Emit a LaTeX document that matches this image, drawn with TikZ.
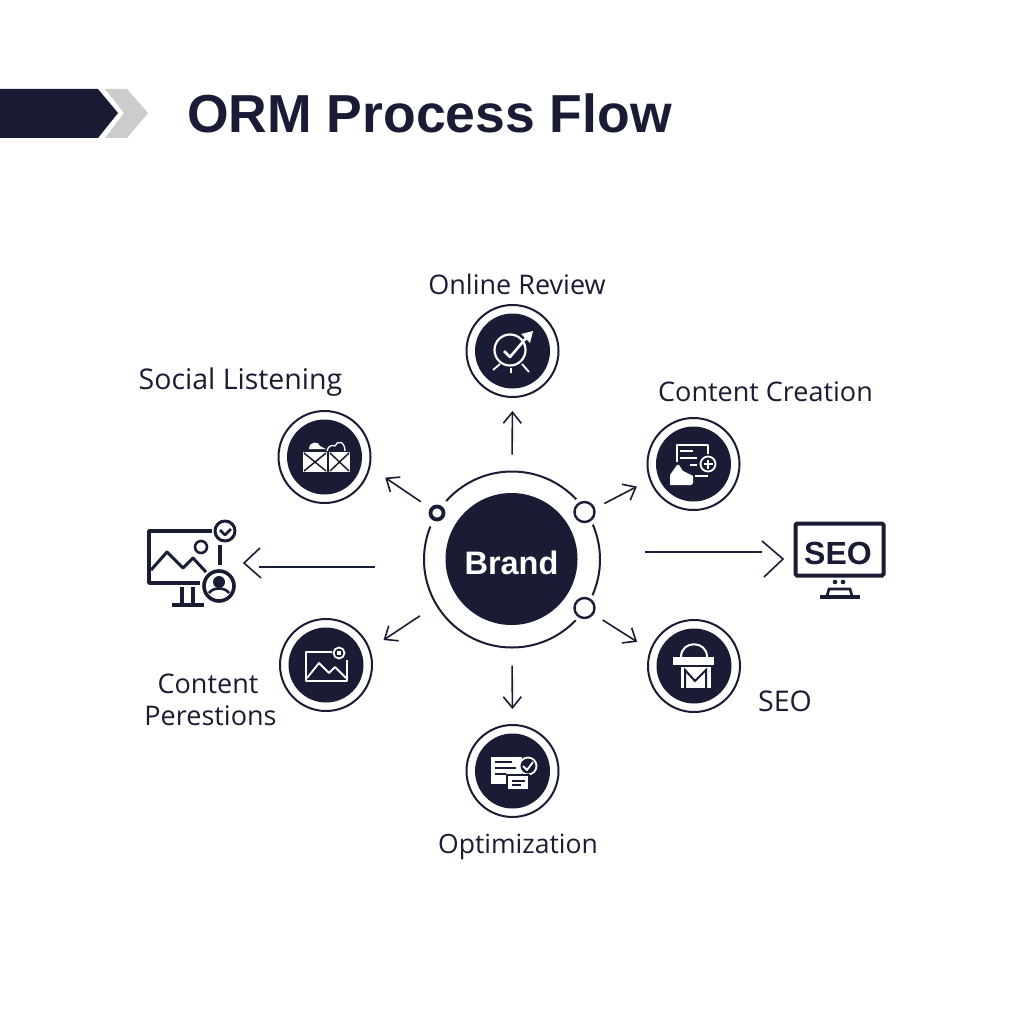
\documentclass[tikz,border=0pt]{standalone}
\usepackage{fontspec}
\setmainfont{Open Sans}
\newfontfamily\headfont{Liberation Sans}
\usetikzlibrary{arrows.meta}
\definecolor{navy}{HTML}{1A1C35}
\tikzset{
  ringnode/.style={circle,draw=navy,line width=2pt,fill=white,minimum size=92pt,inner sep=0pt},
  discnode/.style={circle,fill=navy,minimum size=75pt,inner sep=0pt},
  labelnode/.style={text=navy,font=\fontsize{27}{31}\selectfont,inner sep=0pt,align=center},
  flow/.style={draw=navy,line width=1.6pt,-{Straight Barb[length=11pt,width=18pt]}},
  longflow/.style={draw=navy,line width=1.6pt},
  icon/.style={draw=white,line width=1.8pt,line join=round},
  cut/.style={draw=navy,line width=1.5pt},
  pic/.style={draw=navy,line width=3.6pt,line join=round}
}
\begin{document}
\begin{tikzpicture}[x=1pt,y=-1pt]
\useasboundingbox (0,0) rectangle (1024,1024);
\fill[white] (0,0) rectangle (1024,1024);
% banner and title
\fill[navy] (0,89) -- (98,89) -- (118,113) -- (98,138) -- (0,138) -- cycle;
\fill[black!20] (105,89) -- (127,89) -- (148,113) -- (127,138) -- (105,138) -- (124,113) -- cycle;
\node[anchor=west,text=navy,inner sep=0pt,font=\headfont\bfseries\fontsize{53.5}{60}\selectfont] (title) at (187,113) {ORM Process Flow};
% centre
\node[circle,draw=navy,line width=2pt,minimum size=176pt,inner sep=0pt] (ring) at (512,559.5) {};
\node[circle,fill=navy,minimum size=132pt,inner sep=0pt] (brand) at (511.5,559) {};
\node[text=white,inner sep=0pt,font=\headfont\bfseries\fontsize{32.5}{36}\selectfont] (brandtxt) at (511.5,563) {Brand};
\foreach \name/\px/\py/\rad/\lw in {dotA/437/513/6.5/3.8,dotB/584.5/512/10/2.4,dotC/584.5/608/10/2.4}{
  \fill[white] (\px,\py) circle (15);
  \node[circle,draw=navy,fill=white,line width=\lw pt,minimum size=2*\rad pt,inner sep=0pt] (\name) at (\px,\py) {};
}
% satellites
\foreach \name/\px/\py in {review/512.5/351,social/324.5/457,creation/693.5/464,images/326/665,bag/694/666,optim/512.5/771}{
  \node[ringnode] (\name) at (\px,\py) {};
  \node[discnode] (\name-disc) at (\px,\py) {};
}
% labels
\node[labelnode] (reviewtxt) at (517,284) {Online Review};
\node[labelnode,font=\fontsize{28.5}{32}\selectfont] (socialtxt) at (240.5,382) {Social Listening};
\node[labelnode] (creationtxt) at (765.5,392) {Content Creation};
\node[labelnode] (imagestxt) at (208,700) {Content\\[1pt]\hspace*{5pt}Perestions};
\node[labelnode,font=\fontsize{28.5}{32}\selectfont] (bagtxt) at (785,701) {SEO};
\node[labelnode,font=\fontsize{26.5}{31}\selectfont] (optimtxt) at (518,847) {Optimization};
% connectors
\draw[flow,shorten <=16pt,shorten >=13pt] (ring.90) -- (review.south);
\draw[flow,shorten <=19pt,shorten >=18pt] (ring.148) -- (social.-13);
\draw[flow,shorten <=19pt,shorten >=14pt] (ring.32) -- (creation.200);
\draw[flow,shorten <=19pt,shorten >=16pt] (ring.211) -- (images.20);
\draw[flow,shorten <=20pt,shorten >=15pt] (ring.326) -- (bag.160);
\draw[flow,shorten <=17pt,shorten >=15pt] (ring.270) -- (optim.north);
\coordinate (leftA) at (375,567);
\coordinate (leftB) at (259,567);
\coordinate (rightA) at (645,552);
\coordinate (rightB) at (762,552);
\draw[longflow] (leftA) -- (leftB);
\draw[longflow] (rightA) -- (rightB);
\draw[longflow] (260,548) -- (244,563) -- (261,578);
\draw[longflow] (762,541) -- (783,559) -- (764,577);
% review icon
\draw[icon,line width=2.2pt] (510,350) circle (15.5);
\draw[icon,line width=2.6pt] (504,351) -- (510,357) -- (527,337);
\fill[white] (533,331) -- (521,334) -- (530,343) -- cycle;
\draw[icon] (493,370) -- (500,364) (511,368) -- (511,373) (522,364) -- (529,372);
% social icon
\fill[white] (303,452) rectangle (327,472);
\fill[white] (329,452) rectangle (350,472);
\draw[cut] (304,453) -- (326,471) (326,453) -- (304,471) (330,453) -- (349,471) (349,453) -- (330,471);
\fill[white] (309,449) .. controls (309,441) and (319,441) .. (320,446) -- (326,449) -- cycle;
\draw[icon,line width=1.3pt] (327,451) .. controls (328,445) and (333,445) .. (335,446) .. controls (337,440) and (345,441) .. (345,451);
% creation icon
\draw[icon] (677,462) -- (677,445) -- (708,445) -- (708,454);
\draw[icon] (680,451) -- (693,451) (680,458) -- (697,458) (690,465) -- (697,465);
\draw[icon] (708,464) circle (7.5);
\draw[icon] (703.5,464) -- (712.5,464) (708,459.5) -- (708,468.5);
\fill[white] (670,485) -- (670,475) -- (677,465) .. controls (680,462) and (681,472) .. (685,472) -- (693,476) -- (693,483) -- (691,485) -- cycle;
\draw[icon] (695,476) -- (708,476);
% image icon
\draw[icon] (332,652) -- (306,652) -- (306,681) -- (347,681) -- (347,660);
\draw[icon] (307,678) -- (319,663) -- (329,673) -- (335,667) -- (346,678);
\draw[icon,fill=navy] (339,653) circle (5.5);
\fill[white] (337,651) rectangle (341,655);
% bag icon
\fill[white] (673,657) rectangle (714,665);
\draw[icon,line width=2pt] (681,657) .. controls (681,640) and (707,640) .. (707,657);
\fill[white] (681,667) rectangle (711,688);
\draw[cut,line width=2pt] (685,688) -- (685,670) -- (695,681) -- (706,670) -- (706,688);
% optimization icon
\fill[white] (491,757) rectangle (522,784);
\draw[cut] (495,762) -- (512,762) (495,768) -- (516,768) (495,774) -- (506,774);
\draw[icon,fill=navy] (528,766) circle (8.5);
\draw[icon] (523,766) -- (527,770) -- (533,762);
\fill[navy] (506,774) rectangle (530,792);
\fill[white] (508,776) rectangle (528,789);
\draw[cut,line width=1.2pt] (512,781) -- (525,781) (512,785) -- (521,785);
% left monitor
\draw[pic] (212,531) -- (149,531) -- (149,583) -- (200,583);
\draw[pic,line width=3pt] (151,570) -- (167,552) -- (183,568) -- (193,558) -- (206,572);
\draw[pic,line width=2.6pt] (201,547) circle (6);
\draw[pic,line width=3pt] (225,531) circle (10);
\draw[pic,line width=2.6pt] (220,530) -- (225,535) -- (231,529);
\draw[pic] (220,545) -- (220,565);
\draw[pic] (219,586) circle (15);
\fill[navy] (219,582) circle (6);
\draw[pic,line width=2.6pt] (209,593) .. controls (213,587) and (225,587) .. (229,593);
\draw[pic] (182,587) -- (182,604) (193,587) -- (193,604) (172,605) -- (204,605);
% seo monitor
\node[draw=navy,line width=4pt,rounded corners=1.5pt,minimum width=88pt,minimum height=52pt,inner sep=0pt] (seomon) at (839.5,549.5) {};
\node[text=navy,inner sep=0pt,font=\headfont\bfseries\fontsize{32}{34}\selectfont] (seotxt) at (838,553) {SEO};
\fill[navy] (835,582) circle (2.3) (843,582) circle (2.3);
\draw[navy,line width=2.6pt] (827,596) -- (829,589) -- (850,589) -- (852,596);
\draw[navy,line width=3.8pt] (820,597) -- (860,597);
\end{tikzpicture}
\end{document}
